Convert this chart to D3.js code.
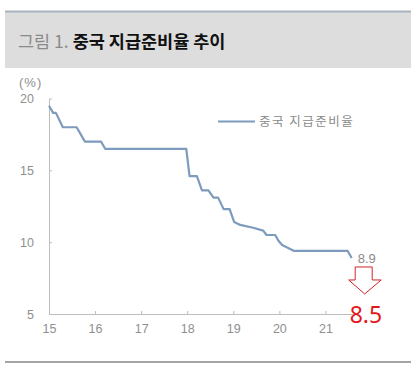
<!DOCTYPE html>
<html><head><meta charset="utf-8">
<script src="https://cdn.jsdelivr.net/npm/d3@7"></script>
<style>
html,body{margin:0;padding:0;background:#fff;}
svg{display:block;}
</style></head>
<body>
<script>
// Data (decimal year, e.g. 15.5 = mid-2015)
const years  = [15.00, 15.09, 15.15, 15.30, 15.60, 15.78, 16.13, 16.22, 17.98, 18.05, 18.21, 18.32, 18.46, 18.57, 18.67, 18.79, 18.92, 19.02, 19.15, 19.43, 19.65, 19.72, 19.91, 19.98, 20.06, 20.31, 21.48, 21.57];
const values = [19.5, 19.0, 19.0, 18.0, 18.0, 17.0, 17.0, 16.5, 16.5, 14.6, 14.6, 13.6, 13.6, 13.1, 13.1, 12.3, 12.3, 11.4, 11.2, 11.0, 10.8, 10.5, 10.5, 10.1, 9.8, 9.4, 9.4, 8.9];
const xTicks = [15, 16, 17, 18, 19, 20, 21];
const yTicks = [5, 10, 15, 20];
const seriesName = "중국 지급준비율";
const titlePrefix = "그림 1. ";
const titleMain = "중국 지급준비율 추이";
const unitLabel = "(%)";
const lastLabel = "8.9";
const forecastLabel = "8.5";

const W = 416, H = 373;
const svg = d3.select("body").append("svg").attr("width", W).attr("height", H);

// Title band
svg.append("rect").attr("x", 5).attr("y", 11).attr("width", 406).attr("height", 57).attr("fill", "#dddddd");
svg.append("line").attr("x1", 5).attr("x2", 411).attr("y1", 11.5).attr("y2", 11.5).attr("stroke", "#a7b3bf").attr("stroke-width", 2);
const title = svg.append("text").attr("x", 18).attr("y", 48)
  .attr("font-family", "'Noto Sans CJK KR', sans-serif").attr("font-size", 17.5);
title.append("tspan").attr("fill", "#8a8a8a").text(titlePrefix);
title.append("tspan").attr("fill", "#111").attr("font-weight", "bold").text(titleMain);

// Scales
const x = d3.scaleLinear().domain([15, 21.62]).range([49, 354]);
const y = d3.scaleLinear().domain([5, 20]).range([314, 98.5]);

const axisColor = "#bdbdbd", labelColor = "#8f8f8f";

// Y axis
const gy = svg.append("g").attr("transform", "translate(49,0)")
  .call(d3.axisRight(y).tickValues(yTicks).tickSize(3).tickSizeOuter(0).tickFormat(d => d));
gy.selectAll("path,line").attr("stroke", axisColor);
gy.selectAll("text").attr("x", -15).attr("text-anchor", "end").attr("fill", labelColor)
  .attr("font-family", "'Liberation Sans', Arial, sans-serif").attr("font-size", 12.5);

// X axis
const gx = svg.append("g").attr("transform", "translate(0,314)")
  .call(d3.axisTop(x).tickValues(xTicks).tickSize(3).tickSizeOuter(0).tickFormat(d => d));
gx.selectAll("path,line").attr("stroke", axisColor);
gx.selectAll("text").attr("y", 19).attr("dy", "0").attr("fill", labelColor)
  .attr("font-family", "'Liberation Sans', Arial, sans-serif").attr("font-size", 12.5);

// Unit label
svg.append("text").attr("x", 19).attr("y", 87).attr("fill", labelColor)
  .attr("font-family", "'Liberation Sans', Arial, sans-serif").attr("font-size", 13).attr("letter-spacing", 1).text(unitLabel);

// Series line
const data = years.map((t, i) => ({t, v: values[i]}));
svg.append("path").datum(data)
  .attr("fill", "none").attr("stroke", "#7d9bbd").attr("stroke-width", 2.2)
  .attr("stroke-linejoin", "round")
  .attr("d", d3.line().x(d => x(d.t)).y(d => y(d.v)));

// Legend
svg.append("line").attr("x1", 218).attr("x2", 255).attr("y1", 121.5).attr("y2", 121.5)
  .attr("stroke", "#7d9bbd").attr("stroke-width", 2.2);
svg.append("text").attr("x", 259).attr("y", 126).attr("fill", "#8a8a8a")
  .attr("font-family", "'Noto Sans CJK KR', sans-serif").attr("font-size", 12.5)
  .attr("letter-spacing", 1.5).text(seriesName);

// Last value label
const last = data[data.length - 1];
svg.append("text").attr("x", x(last.t) + 6).attr("y", y(last.v) + 5).attr("fill", "#8a8a8a")
  .attr("font-family", "'Liberation Sans', Arial, sans-serif").attr("font-size", 13).text(lastLabel);

// Down arrow annotation
const ax = x(last.t) + 13, ay = y(last.v) + 9;
const arrowPts = [[-9.5,0],[7.5,0],[7.5,13],[16.5,13],[0,27],[-16,13],[-9.5,13]];
svg.append("polygon")
  .attr("points", arrowPts.map(p => [ax + p[0], ay + p[1]].join(",")).join(" "))
  .attr("fill", "#fff").attr("stroke", "#d2232a").attr("stroke-width", 1);

svg.append("text").attr("x", ax - 15).attr("y", 323).attr("fill", "#e3161d")
  .attr("font-family", "'Noto Sans', sans-serif").attr("font-size", 23).text(forecastLabel);

// Bottom rule
svg.append("line").attr("x1", 5).attr("x2", 411).attr("y1", 362).attr("y2", 362)
  .attr("stroke", "#a5a5a5").attr("stroke-width", 2);
</script>
</body></html>
